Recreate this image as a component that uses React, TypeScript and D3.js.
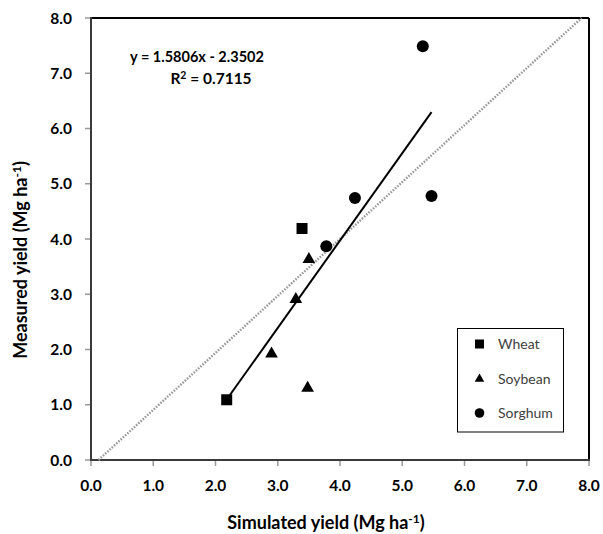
import React from "react";
import * as d3 from "d3";

const xTicks = [0, 1, 2, 3, 4, 5, 6, 7, 8];
const yTicks = [0, 1, 2, 3, 4, 5, 6, 7, 8];
const wheat: [number, number][] = [[2.18, 1.09], [3.39, 4.19]];
const soybean: [number, number][] = [[3.5, 3.63], [3.29, 2.91], [2.9, 1.92], [3.48, 1.3]];
const sorghum: [number, number][] = [[3.78, 3.87], [5.33, 7.49], [4.24, 4.74], [5.47, 4.78]];
const slope = 1.5806;
const intercept = -2.3502;
const oneToOne: [number, number][] = [[0.12, 0], [7.88, 8]];
const legendItems = ["Wheat", "Soybean", "Sorghum"];

const FONT = "Lato, 'Open Sans', sans-serif";

export default function App() {
  const x = d3.scaleLinear().domain([0, 8]).range([91, 589]);
  const y = d3.scaleLinear().domain([0, 8]).range([460, 18]);
  const allX = [...wheat, ...soybean, ...sorghum].map((d) => d[0]);
  const [xmin, xmax] = d3.extent(allX) as [number, number];
  const line = d3.line<[number, number]>().x((d) => x(d[0])).y((d) => y(d[1]));
  const tri = d3.symbol().type(d3.symbolTriangle).size(70)();
  const triL = d3.symbol().type(d3.symbolTriangle).size(40)();

  const sq = 11;
  return (
    <svg width={603} height={534} style={{ position: "absolute", left: 0, top: 0, background: "#fff" }}>
      <rect x={0} y={0} width={603} height={534} fill="#fff" />
      {/* ticks */}
      {xTicks.map((t) => (
        <line key={"xt" + t} x1={x(t)} x2={x(t)} y1={460} y2={466} stroke="#999" strokeWidth={1.5} />
      ))}
      {yTicks.map((t) => (
        <line key={"yt" + t} x1={85} x2={91} y1={y(t)} y2={y(t)} stroke="#999" strokeWidth={1.5} />
      ))}
      {xTicks.map((t) => (
        <text key={"xl" + t} x={x(t)} y={490.5} textAnchor="middle" fontFamily={FONT} fontWeight="bold" fontSize={15.5} fill="#000">
          {t.toFixed(1)}
        </text>
      ))}
      {yTicks.map((t) => (
        <text key={"yl" + t} x={72} y={y(t) + 5.5} textAnchor="end" fontFamily={FONT} fontWeight="bold" fontSize={15.5} fill="#000">
          {t.toFixed(1)}
        </text>
      ))}
      {/* frame */}
      <line x1={91} x2={589} y1={18} y2={18} stroke="#000" strokeWidth={2} />
      <line x1={589} x2={589} y1={18} y2={460} stroke="#000" strokeWidth={2} />
      <line x1={91} x2={91} y1={17} y2={461} stroke="#3a3a3a" strokeWidth={2} />
      <line x1={90} x2={590} y1={460} y2={460} stroke="#3a3a3a" strokeWidth={2} />
      {/* 1:1 line */}
      <path d={line(oneToOne) || ""} stroke="#9a9a9a" strokeWidth={2.4} strokeDasharray="1.6,1.4" fill="none" />
      {/* regression */}
      <path
        d={line([[xmin, slope * xmin + intercept], [xmax, slope * xmax + intercept]]) || ""}
        stroke="#000"
        strokeWidth={2}
        fill="none"
      />
      {/* points */}
      {wheat.map((d, i) => (
        <rect key={"w" + i} x={x(d[0]) - sq / 2} y={y(d[1]) - sq / 2} width={sq} height={sq} fill="#000" />
      ))}
      {soybean.map((d, i) => (
        <path key={"s" + i} d={tri || ""} transform={`translate(${x(d[0])},${y(d[1])})`} fill="#000" />
      ))}
      {sorghum.map((d, i) => (
        <circle key={"g" + i} cx={x(d[0])} cy={y(d[1])} r={6} fill="#000" />
      ))}
      {/* equation */}
      <text x={197} y={62} textAnchor="middle" fontFamily={FONT} fontWeight="bold" fontSize={14.5} fill="#000">
        y = 1.5806x - 2.3502
      </text>
      <text x={211} y={84} textAnchor="middle" fontFamily={FONT} fontWeight="bold" fontSize={15.5} fill="#000">
        R<tspan dy={-5} fontSize={10.5}>2</tspan><tspan dy={5}> = 0.7115</tspan>
      </text>
      {/* legend */}
      <rect x={457.5} y={328.5} width={106} height={103.5} fill="#fff" stroke="#000" strokeWidth={1} />
      {legendItems.map((name, i) => {
        const cy = [344, 379, 413][i];
        return (
          <g key={name}>
            {i === 0 && <rect x={479.5 - 4.5} y={cy - 4.5} width={9} height={9} fill="#000" />}
            {i === 1 && <path d={triL || ""} transform={`translate(479.5,${cy})`} fill="#000" />}
            {i === 2 && <circle cx={479.5} cy={cy} r={4.8} fill="#000" />}
            <text x={498} y={cy + 5} fontFamily={FONT} fontSize={14} fill="#404040">
              {name}
            </text>
          </g>
        );
      })}
      {/* axis titles */}
      <text x={326} y={529} textAnchor="middle" fontFamily={FONT} fontWeight="bold" fontSize={18} fill="#000">
        Simulated yield (Mg ha<tspan dy={-6} fontSize={12}>-1</tspan><tspan dy={6}>)</tspan>
      </text>
      <text
        transform={`translate(27,260) rotate(-90)`}
        textAnchor="middle"
        fontFamily={FONT}
        fontWeight="bold"
        fontSize={18}
        fill="#000"
      >
        Measured yield (Mg ha<tspan dy={-6} fontSize={12}>-1</tspan><tspan dy={6}>)</tspan>
      </text>
    </svg>
  );
}
